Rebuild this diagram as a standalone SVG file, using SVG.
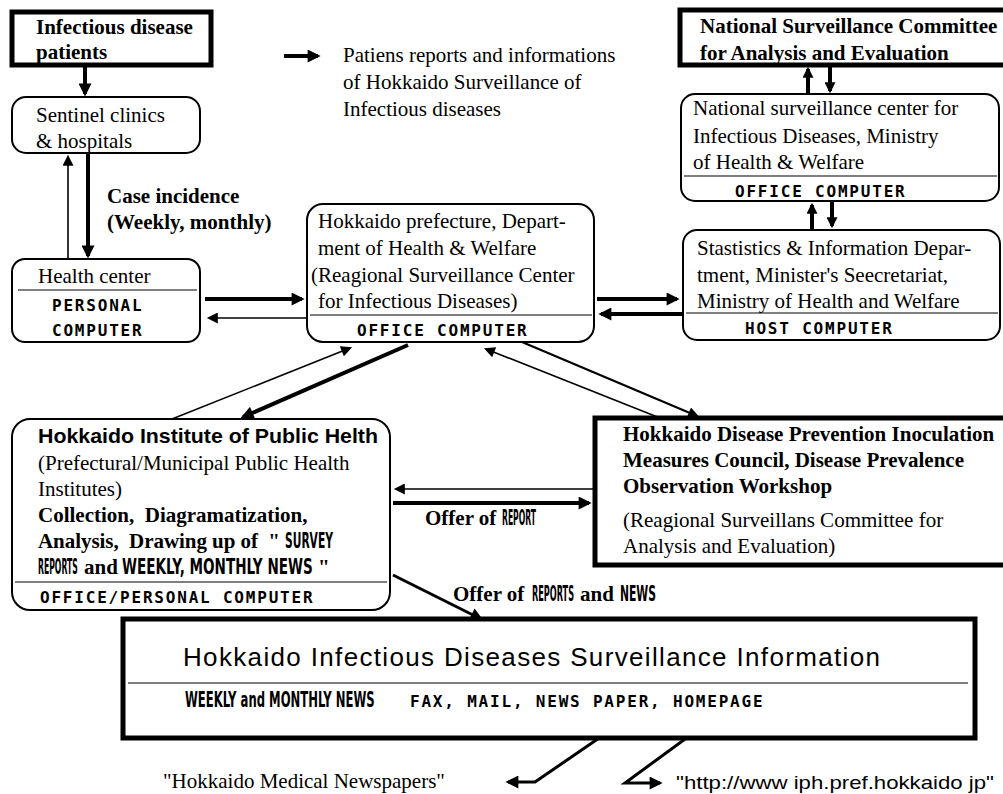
<svg xmlns="http://www.w3.org/2000/svg" width="1003" height="794" viewBox="0 0 1003 794">
<defs>
<style>
.t{font-family:"Liberation Serif","Times New Roman",serif;font-size:21px;fill:#000}
.b{font-family:"Liberation Serif","Times New Roman",serif;font-size:21px;font-weight:bold;fill:#000}
.s{font-family:"Liberation Sans",Arial,sans-serif;fill:#000}
.m{font-family:"DejaVu Sans Mono","Liberation Mono",monospace;font-size:16px;font-weight:bold;letter-spacing:1.8px;fill:#000}
.n{font-family:"DejaVu Sans Condensed","DejaVu Sans",sans-serif;font-stretch:condensed;font-size:22px;font-weight:bold;fill:#000}
.box{fill:#fff;stroke:#000;stroke-width:2}
.hbox{fill:#fff;stroke:#000;stroke-width:5}
.sep{stroke:#000;stroke-width:1.2;fill:none}
.thin{stroke:#000;stroke-width:1.6;fill:none}
.thick{stroke:#000;stroke-width:4;fill:none}
</style>
<marker id="ah" viewBox="0 0 10 10" refX="8" refY="5" markerWidth="16" markerHeight="13" markerUnits="userSpaceOnUse" orient="auto">
<path d="M0,0 L10,5 L0,10 z" fill="#000"/>
</marker>
<marker id="as" viewBox="0 0 10 10" refX="8" refY="5" markerWidth="14" markerHeight="11" markerUnits="userSpaceOnUse" orient="auto">
<path d="M0,0 L10,5 L0,10 z" fill="#000"/>
</marker>
</defs>
<rect width="1003" height="794" fill="#fff"/>

<g id="connectors">
<line class="thick" x1="85" y1="66" x2="85" y2="94" marker-end="url(#ah)"/>
<line class="thin" x1="68" y1="260" x2="68" y2="157" marker-end="url(#as)"/>
<line class="thick" x1="88" y1="153" x2="88" y2="256" marker-end="url(#ah)"/>
<line class="thick" x1="205" y1="299" x2="302" y2="299" marker-end="url(#ah)"/>
<line class="thin" x1="307" y1="318" x2="209" y2="318" marker-end="url(#as)"/>
<line class="thick" x1="597" y1="299" x2="677" y2="299" marker-end="url(#ah)"/>
<line class="thick" x1="683" y1="314" x2="601" y2="314" marker-end="url(#ah)"/>
<line class="thick" x1="808" y1="94" x2="808" y2="69" marker-end="url(#as)"/>
<line class="thick" x1="830" y1="66" x2="830" y2="91" marker-end="url(#as)"/>
<line class="thick" x1="812" y1="230" x2="812" y2="205" marker-end="url(#as)"/>
<line class="thick" x1="832" y1="201" x2="832" y2="226" marker-end="url(#as)"/>
<line class="thin" x1="172" y1="419" x2="350" y2="348" marker-end="url(#as)"/>
<line class="thick" x1="408" y1="345" x2="243" y2="417" marker-end="url(#ah)"/>
<line class="thin" x1="660" y1="418" x2="486" y2="349" marker-end="url(#as)"/>
<line class="thin" style="stroke-width:2.2" x1="522" y1="342" x2="697" y2="416" marker-end="url(#as)"/>
<line class="thin" x1="595" y1="489" x2="396" y2="489" marker-end="url(#as)"/>
<line class="thick" x1="393" y1="503" x2="589" y2="503" marker-end="url(#ah)"/>
<line class="thick" style="stroke-width:3" x1="393" y1="575" x2="481" y2="619" marker-end="url(#ah)"/>
<path class="thick" style="stroke-width:3" d="M637,712 L535,782 L508,782" marker-end="url(#ah)"/>
<path class="thick" style="stroke-width:3" d="M722,712 L625,783 L660,783" marker-end="url(#ah)"/>
<line class="thick" x1="284" y1="56" x2="318" y2="56" marker-end="url(#ah)"/>
</g>

<g id="legend">
<text class="t" x="343" y="62">Patiens reports and informations</text>
<text class="t" x="343" y="89">of Hokkaido Surveillance of</text>
<text class="t" x="343" y="116">Infectious diseases</text>
</g>

<g id="patients">
<rect class="hbox" x="12" y="12" width="199" height="53"/>
<text class="b" x="36" y="34">Infectious disease</text>
<text class="b" x="36" y="59">patients</text>
</g>

<g id="sentinel">
<rect class="box" x="12" y="97" width="188" height="56" rx="14"/>
<text class="t" x="36" y="122">Sentinel clinics</text>
<text class="t" x="36" y="148">&amp; hospitals</text>
</g>

<g id="case-label">
<text class="b" x="107" y="203">Case incidence</text>
<text class="b" x="107" y="229">(Weekly, monthly)</text>
</g>

<g id="health-center">
<rect class="box" x="12" y="259" width="188" height="83" rx="13"/>
<text class="t" x="38" y="283">Health center</text>
<line class="sep" x1="18" y1="290" x2="197" y2="290"/>
<text class="m" x="52" y="311">PERSONAL</text>
<text class="m" x="52" y="336">COMPUTER</text>
</g>

<g id="prefecture">
<rect class="box" x="307" y="204" width="287" height="138" rx="16"/>
<text class="t" x="318" y="228">Hokkaido prefecture, Depart-</text>
<text class="t" x="318" y="255">ment of Health &amp; Welfare</text>
<text class="t" x="311" y="282">(Reagional Surveillance Center</text>
<text class="t" x="318" y="308">for Infectious Diseases)</text>
<line class="sep" x1="310" y1="315" x2="592" y2="315"/>
<text class="m" x="357" y="336">OFFICE COMPUTER</text>
</g>

<g id="national-committee">
<rect class="hbox" x="680" y="10" width="330" height="55"/>
<text class="b" x="700" y="33">National Surveillance Committee</text>
<text class="b" x="700" y="60">for Analysis and Evaluation</text>
</g>

<g id="national-center">
<rect class="box" x="681" y="94" width="318" height="107" rx="14"/>
<text class="t" x="693" y="115">National surveillance center for</text>
<text class="t" x="693" y="143">Infectious Diseases, Ministry</text>
<text class="t" x="693" y="169">of Health &amp; Welfare</text>
<line class="sep" x1="684" y1="176" x2="997" y2="176"/>
<text class="m" x="735" y="197">OFFICE COMPUTER</text>
</g>

<g id="statistics">
<rect class="box" x="683" y="230" width="317" height="110" rx="14"/>
<text class="t" x="697" y="255">Stastistics &amp; Information Depar-</text>
<text class="t" x="697" y="282">tment, Minister's Seecretariat,</text>
<text class="t" x="697" y="308">Ministry of Health and Welfare</text>
<line class="sep" x1="686" y1="313" x2="998" y2="313"/>
<text class="m" x="745" y="334">HOST COMPUTER</text>
</g>

<g id="institute">
<rect class="box" x="12" y="419" width="378" height="191" rx="18"/>
<text class="s" x="38" y="443" style="font-size:21px;font-weight:bold" textLength="340" lengthAdjust="spacingAndGlyphs">Hokkaido Institute of Public Helth</text>
<text class="t" x="38" y="470">(Prefectural/Municipal Public Health</text>
<text class="t" x="38" y="496">Institutes)</text>
<text class="b" x="38" y="522" style="white-space:pre">Collection,  Diagramatization,</text>
<text class="b" x="38" y="548" style="white-space:pre" textLength="242" lengthAdjust="spacing">Analysis,  Drawing up of  "</text>
<text class="n" transform="translate(285,548) scale(0.545,1)" textLength="88" lengthAdjust="spacingAndGlyphs">SURVEY</text>
<text class="n" transform="translate(38,574) scale(0.39,1)" textLength="102" lengthAdjust="spacingAndGlyphs">REPORTS</text>
<text class="b" x="84" y="574">and</text>
<text class="n" transform="translate(122,574) scale(0.667,1)" textLength="286" lengthAdjust="spacingAndGlyphs">WEEKLY, MONTHLY NEWS</text>
<text class="b" x="318" y="574">"</text>
<line class="sep" x1="15" y1="582" x2="387" y2="582"/>
<text class="m" x="40" y="603">OFFICE/PERSONAL COMPUTER</text>
</g>

<g id="council">
<rect class="hbox" x="595" y="418" width="415" height="147"/>
<text class="b" x="623" y="441">Hokkaido Disease Prevention Inoculation</text>
<text class="b" x="623" y="467">Measures Council, Disease Prevalence</text>
<text class="b" x="623" y="493">Observation Workshop</text>
<text class="t" x="623" y="527">(Reagional Surveillans Committee for</text>
<text class="t" x="623" y="553">Analysis and Evaluation)</text>
</g>

<g id="offer-labels">
<text class="b" x="425" y="525">Offer of</text>
<text class="n" transform="translate(502,525) scale(0.386,1)" textLength="88" lengthAdjust="spacingAndGlyphs">REPORT</text>
<text class="b" x="453" y="601">Offer of</text>
<text class="n" transform="translate(532,601) scale(0.412,1)" textLength="102" lengthAdjust="spacingAndGlyphs">REPORTS</text>
<text class="b" x="580" y="601">and</text>
<text class="n" transform="translate(620,601) scale(0.554,1)" textLength="65" lengthAdjust="spacingAndGlyphs">NEWS</text>
</g>

<g id="information">
<rect class="hbox" x="123" y="619" width="852" height="119"/>
<text class="s" x="183" y="666" style="font-size:26px" textLength="697">Hokkaido Infectious Diseases Surveillance Information</text>
<line class="sep" x1="128" y1="683" x2="968" y2="683"/>
<text class="n" transform="translate(185,707) scale(0.58,1)" textLength="327" lengthAdjust="spacingAndGlyphs">WEEKLY and MONTHLY NEWS</text>
<text class="m" x="410" y="707">FAX, MAIL, NEWS PAPER, HOMEPAGE</text>
</g>

<g id="outputs">
<text class="t" x="163" y="788">"Hokkaido Medical Newspapers"</text>
<text class="s" x="676" y="789" style="font-size:19px" textLength="318" lengthAdjust="spacingAndGlyphs">"http://www iph.pref.hokkaido jp"</text>
</g>
</svg>
